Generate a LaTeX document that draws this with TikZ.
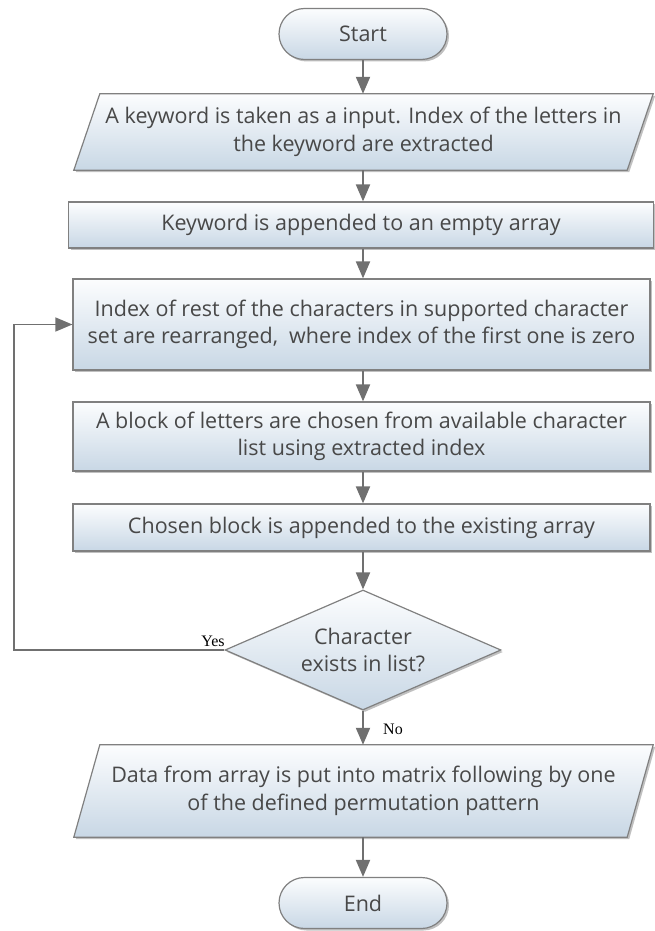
\documentclass[tikz,border=0pt]{standalone}
\usepackage{fontspec}
\setmainfont{Open Sans}
\newfontfamily\ynfont{Liberation Serif}
\usetikzlibrary{shapes.geometric,shapes.misc,arrows.meta,shadows,calc,backgrounds}
\definecolor{boxtop}{RGB}{252,253,254}
\definecolor{boxbot}{RGB}{200,215,229}
\definecolor{edgec}{RGB}{128,128,128}
\definecolor{txtc}{RGB}{72,72,72}
\definecolor{arrowc}{RGB}{112,112,112}
\tikzset{
  boxfill/.style={top color=boxtop, bottom color=boxbot, draw=edgec, line width=1.2pt,
    drop shadow={shadow xshift=2pt, shadow yshift=-2pt, opacity=0.45, fill=black!55}},
  bodyfont/.style={text=txtc, font=\fontsize{21.5}{27.5}\selectfont, align=center},
  procbox/.style={rectangle, boxfill, bodyfont, inner sep=0pt},
  termbox/.style={rounded rectangle, boxfill, bodyfont, inner sep=0pt,
    minimum width=168pt, minimum height=51pt},
  iotext/.style={rectangle, bodyfont, inner sep=0pt, minimum width=553pt},
  decbox/.style={diamond, boxfill, bodyfont, aspect=2.3, inner sep=0pt,
    minimum width=276pt, minimum height=120pt},
  flow/.style={draw=arrowc, line width=2pt, -{Triangle[length=17pt,width=14pt]}},
  loopflow/.style={draw=arrowc, line width=1.5pt, -{Triangle[length=17pt,width=14pt]}},
  yn/.style={font=\ynfont\fontsize{16}{18}\selectfont, text=black, inner sep=0pt},
}
\newcommand{\parabox}[1]{%
  \begin{scope}[on background layer]
    \path[boxfill] ($(#1.north west)+(13,0)$) -- ($(#1.north east)+(13,0)$)
      -- ($(#1.south east)+(-13,0)$) -- ($(#1.south west)+(-13,0)$) -- cycle;
  \end{scope}}
\begin{document}
\begin{tikzpicture}[x=1pt,y=-1pt]
\useasboundingbox (0,0) rectangle (655,931);
\node[termbox] (start) at (363,34) {Start};
\node[iotext, minimum height=76pt] (p1) at (363.5,132)
  {A keyword is taken as a input. Index of the letters in\\the keyword are extracted};
\parabox{p1}
\node[procbox, minimum width=585pt, minimum height=46pt] (b2) at (361,225)
  {Keyword is appended to an empty array};
\node[procbox, minimum width=577pt, minimum height=91pt] (b3) at (361.5,324.5)
  {Index of rest of the characters in supported character\\set are rearranged,\ \ where index of the first one is zero};
\node[procbox, minimum width=577pt, minimum height=69pt] (b4) at (361.5,436.5)
  {A block of letters are chosen from available character\\list using extracted index};
\node[procbox, minimum width=577pt, minimum height=47pt] (b5) at (361.5,527.5)
  {Chosen block is appended to the existing array};
\node[decbox] (dec) at (363,650) {Character\\exists in list?};
\node[iotext, minimum height=92pt] (p2) at (363.5,791)
  {Data from array is put into matrix following by one\\of the defined permutation pattern};
\parabox{p2}
\node[termbox] (end) at (363,903) {End};
\coordinate (lp) at (14,650);
\node[yn] (yes) at (213,641) {Yes};
\node[yn] (no) at (393,729) {No};
\draw[flow] (start.south) -- (start.south |- p1.north);
\draw[flow] (start.south |- p1.south) -- (start.south |- b2.north);
\draw[flow] (start.south |- b2.south) -- (start.south |- b3.north);
\draw[flow] (start.south |- b3.south) -- (start.south |- b4.north);
\draw[flow] (start.south |- b4.south) -- (start.south |- b5.north);
\draw[flow] (start.south |- b5.south) -- (dec.north);
\draw[flow] (dec.south) -- (dec.south |- p2.north);
\draw[flow] (dec.south |- p2.south) -- (end.north);
\draw[loopflow] (dec.west) -- (lp) |- (b3.west);
\end{tikzpicture}
\end{document}
